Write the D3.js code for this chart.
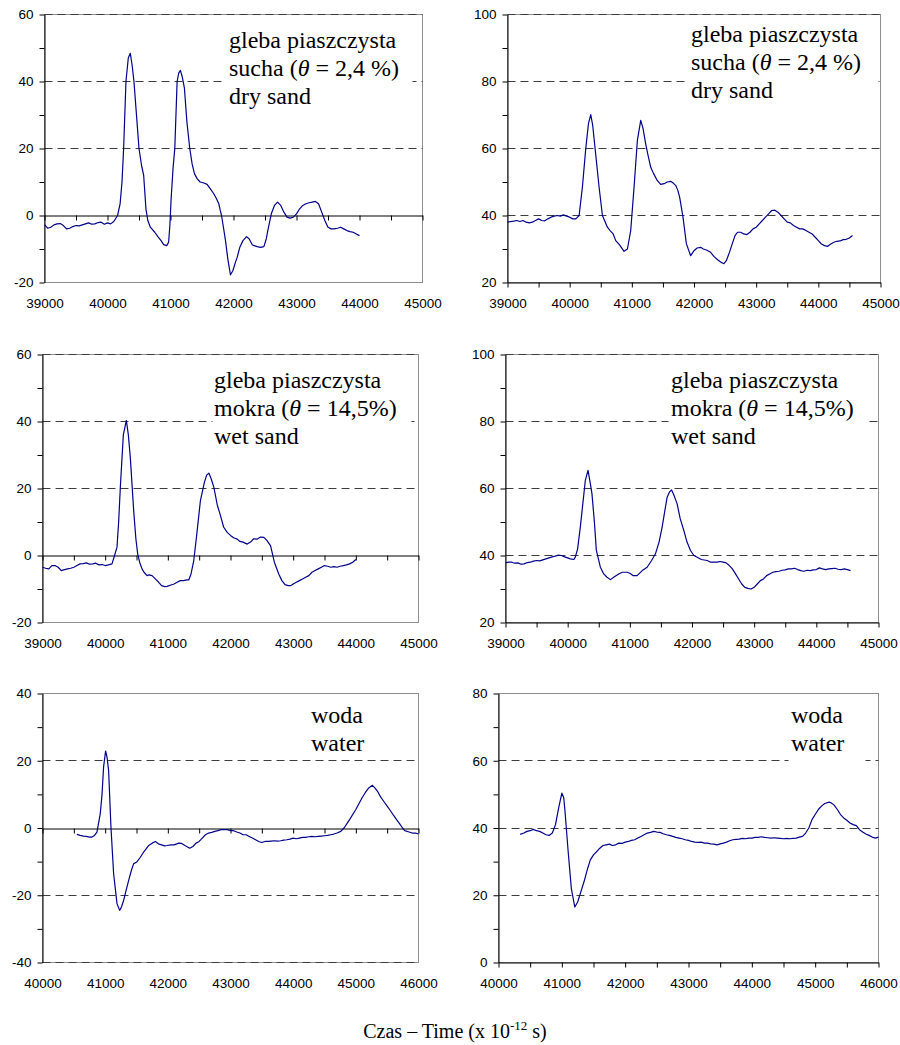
<!DOCTYPE html>
<html>
<head>
<meta charset="utf-8">
<script src="https://cdn.jsdelivr.net/npm/d3@7"></script>
<style>
  body { margin: 0; background: #fff; }
  svg { display: block; }
</style>
</head>
<body>
<script>
// ---- data (time in 1e-12 s, signal value) ----
const drySandLeft = [
 [39000,-2.7],[39050,-3.8],[39100,-3.5],[39150,-2.8],[39200,-2.5],[39250,-2.4],[39300,-3],[39350,-4],[39400,-3.8],[39450,-3.3],
 [39500,-3],[39550,-3.1],[39600,-2.8],[39650,-2.5],[39700,-2.2],[39750,-2.6],[39800,-2.5],[39850,-2.1],[39900,-2],[39950,-2.6],
 [40000,-2.2],[40050,-2.5],[40100,-1.8],[40160,0],[40200,3.5],[40230,10],[40256,20],[40293,40],[40330,47],[40362,48.4],
 [40390,45],[40420,40],[40460,30],[40500,20],[40540,15],[40574,12],[40610,2],[40640,-1.5],[40680,-3.5],[40750,-5],
 [40800,-6.3],[40850,-7.5],[40892,-8.7],[40940,-9],[40970,-8],[40990,-3],[41010,5],[41040,14],[41068,20],[41105,40],
 [41130,42.5],[41157,43.3],[41185,41.5],[41221,38],[41260,28],[41306,20],[41343,15.4],[41380,12.5],[41422,11],[41470,10],
 [41530,9.7],[41581,9.3],[41630,8],[41687,6.5],[41730,5],[41767,3.5],[41790,1.5],[41810,0],[41840,-3.5],[41873,-7.5],
 [41910,-13],[41952,-17.7],[41990,-16.5],[42030,-14],[42058,-12.5],[42100,-9.5],[42150,-7.5],[42207,-6.3],[42250,-7],[42300,-8.8],
 [42376,-9.3],[42430,-9.5],[42482,-9.3],[42520,-7],[42550,-4],[42600,0.5],[42650,3],[42700,4],[42750,3],[42800,1],
 [42850,-0.5],[42900,-0.8],[42950,-0.5],[43000,0.5],[43050,2],[43100,3],[43150,3.5],[43200,3.8],[43250,4],[43300,4.2],
 [43350,3.5],[43400,1],[43450,-1.5],[43500,-3.5],[43550,-4],[43600,-4],[43650,-3.8],[43700,-3.5],[43750,-4],[43800,-4.5],
 [43850,-4.8],[43900,-5],[43950,-5.5],[44000,-6]
];

const drySandRight = [
 [39000,38],[39050,38.2],[39100,38.3],[39150,38.5],[39200,38.2],[39250,38.5],[39300,38],[39350,37.8],[39400,38],[39450,38.5],
 [39500,39],[39550,38.5],[39600,38.4],[39650,39],[39700,39.5],[39750,39.8],[39800,40],[39850,39.8],[39900,40.2],[39950,39.8],
 [40000,39.5],[40050,39],[40098,39],[40152,40],[40205,48.5],[40259,60],[40302,67.4],[40339,70.1],[40370,67],[40409,60],
 [40473,48.5],[40527,40],[40607,36.5],[40650,35.5],[40700,34.5],[40741,32.5],[40800,31.3],[40875,29.3],[40929,30],[40982,35.5],
 [41036,48.5],[41089,62.4],[41143,68.4],[41180,66],[41223,61.4],[41260,58],[41304,54.4],[41350,52.5],[41411,50.4],[41464,49.3],
 [41520,49.5],[41570,50],[41625,50.2],[41670,49.6],[41705,49],[41740,47.5],[41769,45.5],[41823,39.5],[41877,31.6],[41946,28],
 [42000,29.5],[42050,30.3],[42107,30.5],[42150,30],[42200,29.7],[42268,29],[42320,27.8],[42380,26.8],[42440,26],[42482,25.6],
 [42520,26.5],[42570,29],[42616,31.6],[42660,34],[42700,35],[42750,35],[42800,34.5],[42850,34.3],[42900,35],[42950,36],
 [43000,36.5],[43050,37.5],[43100,38.5],[43150,39.5],[43200,40.5],[43250,41.5],[43300,41.6],[43350,41],[43400,40],[43450,39],
 [43500,38],[43550,37.8],[43600,37],[43650,36.5],[43700,36],[43750,36],[43800,35.5],[43850,35],[43900,34.5],[43950,33.5],
 [44000,32.5],[44050,31.5],[44100,31],[44150,30.8],[44200,31.5],[44250,32],[44300,32.3],[44350,32.4],[44400,32.8],[44450,32.9],
 [44500,33.3],[44550,34]
];

const wetSandLeft = [
 [39000,-3.5],[39050,-3.8],[39100,-4],[39150,-3],[39200,-3],[39250,-3.5],[39300,-4.5],[39350,-4.2],[39400,-4],[39450,-3.8],
 [39500,-3.5],[39550,-3],[39600,-2.5],[39650,-2.4],[39700,-2.2],[39750,-2.6],[39800,-2.5],[39850,-2.3],[39900,-2.8],[39950,-2.7],
 [40000,-3],[40050,-2.8],[40109,-2.5],[40150,0],[40189,2.5],[40215,10],[40242,20.4],[40290,36],[40338,40.3],[40370,36],
 [40401,29.3],[40455,13.4],[40490,5],[40519,0.5],[40550,-2],[40588,-4],[40620,-5],[40668,-6],[40700,-5.8],[40748,-6],
 [40800,-7],[40854,-8],[40900,-9],[40950,-9.3],[40988,-9.2],[41050,-8.8],[41100,-8.5],[41148,-8],[41200,-7.5],[41250,-7.5],
 [41300,-7.3],[41334,-7.3],[41370,-5.5],[41414,-1.5],[41460,6],[41520,16.4],[41584,21.9],[41620,24],[41654,24.6],[41690,23],
 [41734,20.4],[41790,15],[41840,11.9],[41890,8.5],[41947,6.9],[42000,6],[42050,5.3],[42107,4.9],[42150,4.2],[42200,4],
 [42267,3.4],[42320,4],[42370,5],[42427,4.9],[42480,5.5],[42533,5.4],[42580,4.5],[42640,2.9],[42700,-2],[42770,-5.5],
 [42820,-7.5],[42870,-8.7],[42920,-9],[42960,-9],[43000,-8.5],[43050,-8],[43100,-7.5],[43150,-7],[43200,-6.5],[43250,-6],
 [43300,-5],[43350,-4.5],[43400,-4],[43450,-3.5],[43500,-3],[43550,-3.2],[43600,-3.5],[43650,-3.3],[43700,-3.5],[43750,-3.2],
 [43800,-3],[43850,-2.8],[43900,-2.5],[43950,-2],[44000,-1.2]
];

const wetSandRight = [
 [39000,37.8],[39050,38],[39100,38],[39150,37.7],[39200,37.8],[39250,37.4],[39300,37.5],[39350,37.9],[39400,38],[39450,38.3],
 [39500,38.5],[39550,38.4],[39600,38.7],[39650,39],[39700,39.3],[39750,39.6],[39800,39.8],[39850,40.1],[39900,40],[39950,39.6],
 [40000,39.3],[40042,39],[40100,38.8],[40123,39.5],[40160,42],[40203,48.4],[40284,62.4],[40327,65.4],[40360,62],[40391,58.4],
 [40430,50],[40461,41.6],[40526,36.5],[40580,34.5],[40633,33.5],[40687,32.8],[40740,33.5],[40821,34.5],[40880,35],[40956,35],
 [41000,34.7],[41050,34],[41117,34],[41200,35.5],[41278,36.5],[41350,38.5],[41412,40.5],[41470,44],[41519,48.4],[41560,53],
 [41600,57.4],[41640,59],[41670,59.6],[41710,58],[41761,55.4],[41810,51],[41868,47.5],[41920,44],[41976,41.5],[42030,40],
 [42084,39.5],[42150,38.8],[42245,38.5],[42300,38],[42406,38],[42450,38.2],[42500,38],[42550,37.8],[42600,37],[42650,36],
 [42700,34.5],[42750,33],[42800,31.5],[42850,30.5],[42900,30.2],[42950,30],[43000,30.5],[43050,31.5],[43100,32.5],[43150,33],
 [43200,34],[43250,34.5],[43300,35],[43350,35.2],[43400,35.3],[43450,35.6],[43500,35.7],[43550,36],[43600,36],[43650,36.2],
 [43700,35.8],[43750,35.5],[43800,35.3],[43850,35.6],[43900,35.5],[43950,35.7],[44000,35.8],[44050,36.3],[44100,36],[44150,35.8],
 [44200,36],[44250,36.1],[44300,36.2],[44350,35.9],[44400,35.8],[44450,36],[44500,35.8],[44550,35.5]
];

const waterLeft = [
 [40549,-1.9],[40600,-2.2],[40655,-2.4],[40700,-2.5],[40750,-2.7],[40789,-2.7],[40830,-2.2],[40869,-1.2],[40922,4.3],[40950,10],
 [40975,18.2],[41007,22.9],[41030,21],[41055,17.1],[41093,0],[41135,-13.6],[41189,-22.5],[41231,-24.5],[41260,-23.5],[41295,-21.5],
 [41335,-18.5],[41375,-15.6],[41420,-12.5],[41455,-10.6],[41500,-10.2],[41561,-8.7],[41620,-7],[41695,-5.2],[41750,-4.5],[41801,-4],
 [41850,-4.7],[41900,-5],[41950,-5.3],[41988,-5.2],[42050,-5],[42100,-5],[42174,-4.5],[42220,-4.6],[42280,-5.3],[42350,-6],
 [42400,-5.5],[42450,-4.5],[42500,-4],[42550,-3],[42600,-2],[42650,-1.5],[42700,-1.3],[42750,-1],[42800,-0.8],[42850,-0.5],
 [42900,-0.5],[42950,-0.5],[43000,-0.8],[43050,-0.8],[43100,-1.2],[43150,-1.5],[43200,-2],[43250,-2],[43300,-2.5],[43350,-3],
 [43400,-3.5],[43450,-4],[43500,-4.3],[43550,-4],[43600,-4],[43650,-3.9],[43700,-3.8],[43750,-3.9],[43800,-3.8],[43850,-3.6],
 [43900,-3.5],[43950,-3.3],[44000,-3],[44050,-3.2],[44100,-3],[44150,-2.8],[44200,-2.8],[44250,-2.6],[44300,-2.5],[44350,-2.6],
 [44400,-2.5],[44450,-2.4],[44500,-2.3],[44550,-2.2],[44600,-2],[44650,-1.8],[44700,-1.5],[44760,-1],[44812,0],[44900,2.5],
 [45000,5.5],[45100,9],[45150,10.5],[45200,11.8],[45265,12.7],[45300,12],[45350,10.8],[45400,9.1],[45450,7.8],[45500,6.5],
 [45550,5.2],[45600,3.8],[45650,2.5],[45700,1.2],[45745,0],[45780,-0.8],[45850,-1.2],[45900,-1.5],[45950,-1.5],[46000,-1.8]
];

const waterRight = [
 [40342,38.1],[40400,38.5],[40450,39],[40500,39.2],[40550,39.6],[40600,39.2],[40650,39],[40700,38.5],[40750,38],[40800,37.8],
 [40850,38.5],[40900,41],[40950,46],[41000,50.4],[41030,49],[41050,45],[41100,33],[41150,22],[41205,16.5],[41250,18],
 [41300,21],[41350,24],[41400,27.5],[41450,30.5],[41500,32],[41550,33],[41600,34],[41650,34.8],[41700,35],[41750,35.2],
 [41800,34.8],[41850,35],[41900,35.5],[41950,35.4],[42000,35.8],[42050,36],[42100,36.3],[42150,36.5],[42200,37],[42250,37.5],
 [42300,38],[42350,38.5],[42400,38.7],[42450,39],[42500,38.8],[42550,38.7],[42600,38.3],[42650,38],[42700,37.8],[42750,37.5],
 [42800,37.2],[42850,37],[42900,36.8],[42950,36.5],[43000,36.3],[43050,36],[43100,35.8],[43150,35.7],[43200,35.8],[43250,35.5],
 [43300,35.5],[43350,35.3],[43400,35.2],[43450,35],[43500,35.3],[43550,35.5],[43600,35.8],[43650,36.2],[43700,36.5],[43750,36.6],
 [43800,36.7],[43850,36.9],[43900,36.8],[43950,37],[44000,37],[44050,37.2],[44100,37.2],[44150,37.4],[44200,37.2],[44250,37.1],
 [44300,37],[44350,37.1],[44400,37],[44450,36.9],[44500,36.8],[44550,36.9],[44600,36.8],[44650,36.9],[44700,37],[44750,37.3],
 [44800,37.5],[44850,38.5],[44900,40],[44950,42.5],[45000,44],[45050,45.5],[45100,46.5],[45150,47.3],[45221,47.7],[45250,47.5],
 [45300,46.8],[45350,45.5],[45400,44],[45450,43],[45500,42.3],[45550,41.5],[45600,41],[45650,40.7],[45700,39.5],[45750,38.8],
 [45800,38.2],[45850,37.8],[45900,37.3],[45950,37],[46000,37.3]
];

// axis ranges and dashed grid values
const sandTimeRange = [39000, 45000];
const waterTimeRange = [40000, 46000];
const leftSandRange = [-20, 60];
const rightSandRange = [20, 100];
const leftWaterRange = [-40, 40];
const rightWaterRange = [0, 80];
const leftSandGrid = [60, 40, 20];
const rightSandGrid = [100, 80, 60, 40];
const leftWaterGrid = [20, -20, -40];
const rightWaterGrid = [60, 40, 20];

// annotation texts: each line is a list of [text, italic]
const dryLabel = [[["gleba piaszczysta", false]], [["sucha (", false], ["θ", true], [" = 2,4 %)", false]], [["dry sand", false]]];
const wetLabel = [[["gleba piaszczysta", false]], [["mokra (", false], ["θ", true], [" = 14,5%)", false]], [["wet sand", false]]];
const waterLabel = [[["woda", false]], [["water", false]]];

// ---- layout ----
const panels = [
  {series: drySandLeft, xDom: sandTimeRange, yDom: leftSandRange, grid: leftSandGrid, axisAtZero: true,
   left: 44, right: 422, top: 14, bottom: 282, label: dryLabel, lx: 229, ly: 48, box: [223, 19, 412, 112]},
  {series: drySandRight, xDom: sandTimeRange, yDom: rightSandRange, grid: rightSandGrid, axisAtZero: false,
   left: 507, right: 880, top: 14, bottom: 282, label: dryLabel, lx: 691, ly: 42, box: [688, 19, 878, 106]},
  {series: wetSandLeft, xDom: sandTimeRange, yDom: leftSandRange, grid: leftSandGrid, axisAtZero: true,
   left: 42, right: 418, top: 354, bottom: 622, label: wetLabel, lx: 214, ly: 388, box: [212, 359, 411, 452]},
  {series: wetSandRight, xDom: sandTimeRange, yDom: rightSandRange, grid: rightSandGrid, axisAtZero: false,
   left: 505, right: 878, top: 354, bottom: 622, label: wetLabel, lx: 671, ly: 388, box: [668, 359, 866, 452]},
  {series: waterLeft, xDom: waterTimeRange, yDom: leftWaterRange, grid: leftWaterGrid, axisAtZero: true,
   left: 42, right: 418, top: 693, bottom: 962, label: waterLabel, lx: 311, ly: 723, box: [306, 698, 372, 757]},
  {series: waterRight, xDom: waterTimeRange, yDom: rightWaterRange, grid: rightWaterGrid, axisAtZero: false,
   left: 498, right: 878, top: 693, bottom: 962, label: waterLabel, lx: 791, ly: 723, box: [788, 698, 865, 763]}
];

const svg = d3.select("body").append("svg")
  .attr("width", 900)
  .attr("height", 1045);

panels.forEach(drawPanel);

function drawPanel(p) {
  const x = d3.scaleLinear().domain(p.xDom).range([p.left, p.right]);
  const y = d3.scaleLinear().domain(p.yDom).range([p.bottom, p.top]);
  const g = svg.append("g").attr("transform", "translate(0.5,0.5)");

  // plot area frame
  g.append("rect")
    .attr("x", p.left).attr("y", p.top)
    .attr("width", p.right - p.left).attr("height", p.bottom - p.top)
    .attr("fill", "none").attr("stroke", "#8f8f8f");

  // dashed gridlines
  g.selectAll("line.grid").data(p.grid).enter().append("line")
    .attr("class", "grid")
    .attr("x1", p.left).attr("x2", p.right)
    .attr("y1", d => Math.round(y(d))).attr("y2", d => Math.round(y(d)))
    .attr("stroke", "#3c3c3c").attr("stroke-dasharray", "8,5");

  // white box behind the annotation
  g.append("rect")
    .attr("x", p.box[0]).attr("y", p.box[1])
    .attr("width", p.box[2] - p.box[0]).attr("height", p.box[3] - p.box[1])
    .attr("fill", "#fff");

  // y axis: ticks every 10, labels every 20
  const yTicks = d3.range(p.yDom[0], p.yDom[1] + 1, 10);
  const yAx = g.append("g")
    .attr("transform", "translate(" + p.left + ",0)")
    .call(d3.axisLeft(y).tickValues(yTicks).tickSize(5).tickSizeOuter(0).tickPadding(6)
      .tickFormat(d => d % 20 === 0 ? d : ""));
  styleAxis(yAx);

  // x axis line with ticks every 500 (at zero when the range crosses it)
  const xTicks = d3.range(p.xDom[0], p.xDom[1] + 1, 500);
  const axisY = p.axisAtZero ? Math.round(y(0)) : p.bottom;
  const xAx = g.append("g")
    .attr("transform", "translate(0," + axisY + ")")
    .call(d3.axisBottom(x).tickValues(xTicks).tickSize(5).tickSizeOuter(0).tickFormat(""));
  styleAxis(xAx);

  // x labels every 1000 along the bottom
  const xLab = g.append("g")
    .attr("transform", "translate(0," + p.bottom + ")")
    .call(d3.axisBottom(x).tickValues(d3.range(p.xDom[0], p.xDom[1] + 1, 1000))
      .tickFormat(d3.format("d")).tickSize(0).tickPadding(16));
  xLab.select(".domain").remove();
  styleAxis(xLab);

  // signal trace
  const line = d3.line().x(d => x(d[0])).y(d => y(d[1]));
  g.append("path")
    .datum(p.series)
    .attr("d", line)
    .attr("fill", "none")
    .attr("stroke", "#00008b")
    .attr("stroke-width", 1.2)
    .attr("stroke-linejoin", "round");

  // annotation
  const txt = svg.append("text")
    .attr("font-family", "'Liberation Serif', 'Times New Roman', serif")
    .attr("font-size", 24)
    .attr("fill", "#000");
  p.label.forEach((parts, i) => {
    const row = txt.append("tspan").attr("x", p.lx).attr("y", p.ly + i * 28);
    parts.forEach(([s, it]) => {
      row.append("tspan").attr("font-style", it ? "italic" : null).text(s);
    });
  });
}

function styleAxis(sel) {
  sel.attr("font-family", "'Liberation Sans', Arial, sans-serif").attr("font-size", 13.5);
  sel.selectAll("path.domain").attr("stroke", "#000");
  sel.selectAll(".tick line").attr("stroke", "#000");
  sel.selectAll(".tick text").attr("fill", "#000");
}

// common time axis title
const title = svg.append("text")
  .attr("x", 455).attr("y", 1038)
  .attr("text-anchor", "middle")
  .attr("font-family", "'Liberation Serif', 'Times New Roman', serif")
  .attr("font-size", 20)
  .attr("fill", "#000");
title.append("tspan").text("Czas – Time (x 10");
title.append("tspan").attr("dy", -8).attr("font-size", 13).text("-12");
title.append("tspan").attr("dy", 8).text(" s)");
</script>
</body>
</html>
